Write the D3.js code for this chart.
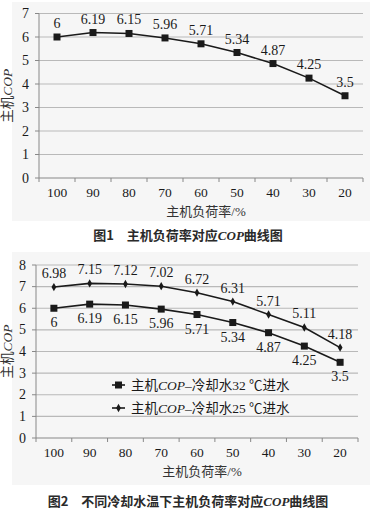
<!DOCTYPE html>
<html>
<head>
<meta charset="utf-8">
<script src="https://cdn.jsdelivr.net/npm/d3@7"></script>
<style>
  body { margin: 0; background: #fff; }
  svg { display: block; }
</style>
</head>
<body>
<div id="chart"></div>
<script>
var loads = ["100", "90", "80", "70", "60", "50", "40", "30", "20"];
var cop32 = [6, 6.19, 6.15, 5.96, 5.71, 5.34, 4.87, 4.25, 3.5];
var cop25 = [6.98, 7.15, 7.12, 7.02, 6.72, 6.31, 5.71, 5.11, 4.18];
var yTicks1 = [0, 1, 2, 3, 4, 5, 6, 7];
var yTicks2 = [0, 1, 2, 3, 4, 5, 6, 7, 8];
var legendNames = ["主机COP–冷却水32 ℃进水", "主机COP–冷却水25 ℃进水"];

var W = 375, H = 512;
var NUM = "'Liberation Serif'";
var SERIF = "'Liberation Serif', 'Noto Sans CJK SC'";
var svg = d3.select("#chart").append("svg")
    .attr("width", W).attr("height", H);

var ink = "#1a1a1a";
var gridColor = "#b9b9b9";

function drawPanel(opt) {
    var g = svg.append("g");

    g.append("rect")
        .attr("x", 12).attr("y", opt.panelTop)
        .attr("width", 358).attr("height", opt.panelBottom - opt.panelTop)
        .attr("fill", "#f6f6f6");

    var x = d3.scaleBand().domain(loads).range([opt.left, opt.right]);
    var y = d3.scaleLinear().domain([0, opt.yMax]).range([opt.bottom, opt.top]);
    var cx = function (d) { return x(d) + x.bandwidth() / 2; };

    // grid
    g.selectAll(".grid").data(opt.yTicks.filter(function (t) { return t > 0; }))
        .enter().append("line")
        .attr("x1", opt.left).attr("x2", opt.right)
        .attr("y1", function (d) { return y(d); })
        .attr("y2", function (d) { return y(d); })
        .attr("stroke", gridColor).attr("stroke-width", 1.2);

    // y axis
    g.append("line")
        .attr("x1", opt.left).attr("x2", opt.left)
        .attr("y1", y(opt.yMax)).attr("y2", y(0))
        .attr("stroke", "#888").attr("stroke-width", 1);
    g.selectAll(".ytick").data(opt.yTicks).enter().append("line")
        .attr("x1", opt.left - 4).attr("x2", opt.left)
        .attr("y1", function (d) { return y(d); })
        .attr("y2", function (d) { return y(d); })
        .attr("stroke", "#888");
    g.selectAll(".ylab").data(opt.yTicks).enter().append("text")
        .attr("font-family", NUM)
        .attr("x", opt.left - 10)
        .attr("y", function (d) { return y(d) + 4.5; })
        .attr("text-anchor", "end")
        .attr("font-size", 14)
        .attr("fill", ink)
        .text(function (d) { return d; });

    // x axis
    g.append("line")
        .attr("x1", opt.left).attr("x2", opt.right)
        .attr("y1", y(0)).attr("y2", y(0))
        .attr("stroke", "#888");
    var edges = loads.map(function (d) { return x(d); }).concat([opt.right]);
    g.selectAll(".xtick").data(edges).enter().append("line")
        .attr("x1", function (d) { return d; }).attr("x2", function (d) { return d; })
        .attr("y1", y(0)).attr("y2", y(0) + 4)
        .attr("stroke", "#888");
    g.selectAll(".xlab").data(loads).enter().append("text")
        .attr("font-family", NUM)
        .attr("x", cx)
        .attr("y", y(0) + 19)
        .attr("text-anchor", "middle")
        .attr("font-size", 13.5)
        .attr("fill", ink)
        .text(function (d) { return d; });

    g.append("text")
        .attr("font-family", SERIF)
        .attr("x", (opt.left + opt.right) / 2 + 5)
        .attr("y", y(0) + 38)
        .attr("text-anchor", "middle")
        .attr("font-size", 13)
        .attr("fill", "#333")
        .text("主机负荷率/%");

    // y title
    var yt = g.append("text")
        .attr("font-family", SERIF)
        .attr("transform", "translate(12," + ((opt.top + opt.bottom) / 2) + ") rotate(-90)")
        .attr("text-anchor", "middle")
        .attr("font-size", 13.5)
        .attr("fill", "#333");
    yt.append("tspan").text("主机");
    yt.append("tspan").attr("font-family", NUM).attr("font-style", "italic").text("COP");

    var line = d3.line()
        .x(function (d, i) { return cx(loads[i]); })
        .y(function (d) { return y(d); });

    opt.series.forEach(function (s) {
        g.append("path").datum(s.values)
            .attr("d", line)
            .attr("fill", "none")
            .attr("stroke", ink)
            .attr("stroke-width", 1.6);

        if (s.marker === "square") {
            g.selectAll(null).data(s.values).enter().append("rect")
                .attr("x", function (d, i) { return cx(loads[i]) - 3.5; })
                .attr("y", function (d) { return y(d) - 3.5; })
                .attr("width", 7).attr("height", 7)
                .attr("fill", ink);
        } else {
            g.selectAll(null).data(s.values).enter().append("path")
                .attr("d", d3.symbol().type(d3.symbolDiamond).size(20))
                .attr("transform", function (d, i) {
                    return "translate(" + cx(loads[i]) + "," + y(d) + ")";
                })
                .attr("fill", ink);
        }

        g.selectAll(null).data(s.values).enter().append("text")
            .attr("font-family", NUM)
            .attr("x", function (d, i) { return cx(loads[i]); })
            .attr("y", function (d) { return y(d) + s.labelDy; })
            .attr("text-anchor", "middle")
            .attr("font-size", 14)
            .attr("fill", ink)
            .text(function (d) { return d; });
    });

    if (opt.legend) {
        opt.series.forEach(function (s, i) {
            var ly = opt.legendY + i * 23;
            g.append("line")
                .attr("x1", 112).attr("x2", 125)
                .attr("y1", ly).attr("y2", ly)
                .attr("stroke", ink).attr("stroke-width", 1.6);
            if (s.marker === "square") {
                g.append("rect").attr("x", 115).attr("y", ly - 3.5)
                    .attr("width", 7).attr("height", 7).attr("fill", ink);
            } else {
                g.append("path")
                    .attr("d", d3.symbol().type(d3.symbolDiamond).size(20))
                    .attr("transform", "translate(118.5," + ly + ")")
                    .attr("fill", ink);
            }
            var t = g.append("text")
                .attr("font-family", SERIF)
                .attr("x", 131).attr("y", ly + 5)
                .attr("font-size", 13.5)
                .attr("fill", ink);
            var parts = s.name.split("COP");
            t.append("tspan").text(parts[0]);
            t.append("tspan").attr("font-family", NUM).attr("font-style", "italic").text("COP");
            t.append("tspan").text(parts[1]);
        });
    }

    // caption
    var cap = g.append("text")
        .attr("font-family", "'Noto Sans CJK SC', sans-serif")
        .attr("font-weight", "bold")
        .attr("x", 188).attr("y", opt.captionY)
        .attr("text-anchor", "middle")
        .attr("font-size", 13)
        .attr("fill", "#2a2a2a");
    opt.caption.forEach(function (p) {
        var ts = cap.append("tspan").text(p.t);
        if (p.i) ts.attr("font-family", NUM).attr("font-style", "italic");
    });
}

drawPanel({
    panelTop: 2, panelBottom: 221,
    left: 39, right: 363, top: 13.5, bottom: 178,
    yMax: 7, yTicks: yTicks1,
    series: [{ values: cop32, marker: "square", labelDy: -9, name: legendNames[0] }],
    legend: false,
    captionY: 240,
    caption: [{ t: "图1\u2003主机负荷率对应" }, { t: "COP", i: true }, { t: "曲线图" }]
});

drawPanel({
    panelTop: 252, panelBottom: 485,
    left: 36, right: 358, top: 265, bottom: 438,
    yMax: 8, yTicks: yTicks2,
    series: [
        { values: cop32, marker: "square", labelDy: 19, name: legendNames[0] },
        { values: cop25, marker: "diamond", labelDy: -9, name: legendNames[1] }
    ],
    legend: true, legendY: 385,
    captionY: 506,
    caption: [{ t: "图2\u2003不同冷却水温下主机负荷率对应" }, { t: "COP", i: true }, { t: "曲线图" }]
});
</script>
</body>
</html>
